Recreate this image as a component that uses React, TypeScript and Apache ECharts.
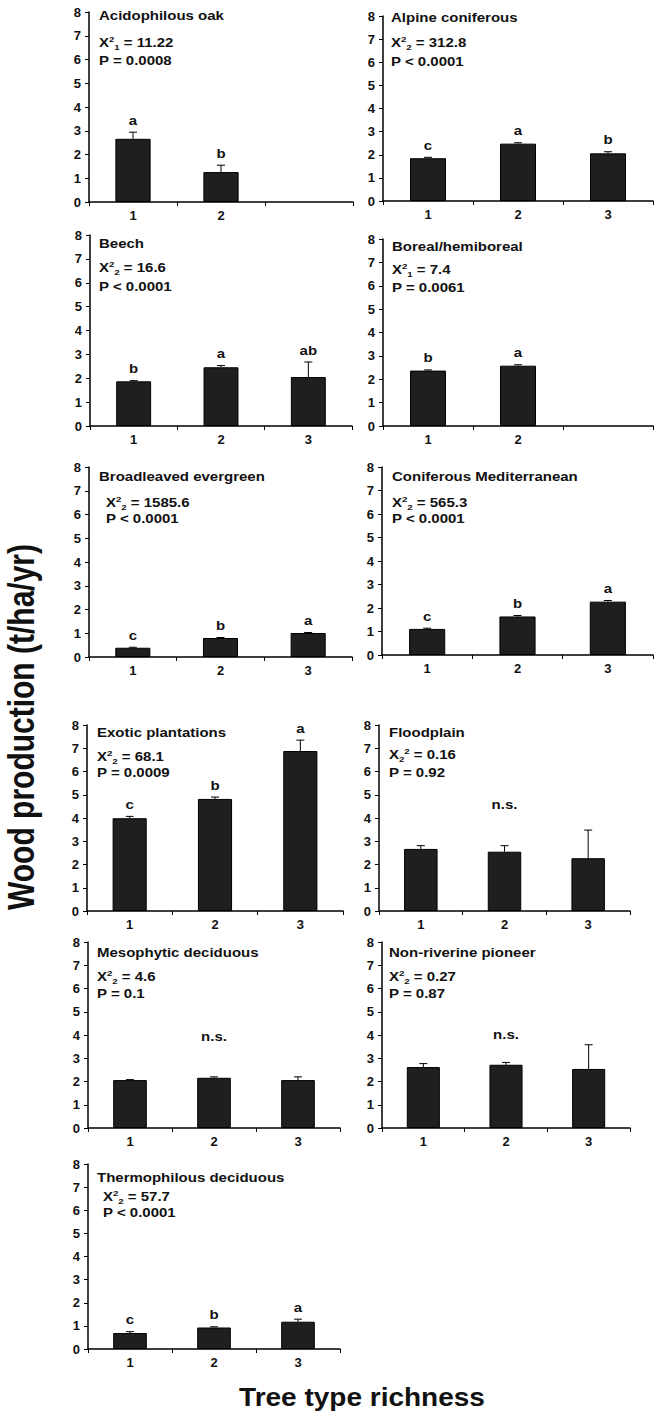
import React, { useEffect, useRef } from 'react';
import * as echarts from 'echarts';

// ---------- data ----------
const panelNames = [
  'Acidophilous oak', 'Alpine coniferous', 'Beech', 'Boreal/hemiboreal',
  'Broadleaved evergreen', 'Coniferous Mediterranean', 'Exotic plantations', 'Floodplain',
  'Mesophytic deciduous', 'Non-riverine pioneer', 'Thermophilous deciduous',
];
const chiDf = [1, 2, 2, 1, 2, 2, 2, 2, 2, 2, 2];
const chiValue = ['11.22', '312.8', '16.6', '7.4', '1585.6', '565.3', '68.1', '0.16', '4.6', '0.27', '57.7'];
const chiSubFirst = [false, false, false, false, false, false, false, true, false, false, false];
const pText = ['P = 0.0008', 'P < 0.0001', 'P < 0.0001', 'P = 0.0061', 'P < 0.0001', 'P < 0.0001',
  'P = 0.0009', 'P = 0.92', 'P = 0.1', 'P = 0.87', 'P < 0.0001'];
const means = [
  [2.66, 1.26],
  [1.85, 2.48, 2.06],
  [1.87, 2.46, 2.05],
  [2.37, 2.58],
  [0.39, 0.80, 1.01],
  [1.11, 1.64, 2.27],
  [3.99, 4.82, 6.88],
  [2.67, 2.55, 2.27],
  [2.06, 2.16, 2.06],
  [2.62, 2.72, 2.54],
  [0.69, 0.93, 1.18],
];
const stdErr = [
  [0.28, 0.29],
  [0.04, 0.04, 0.07],
  [0.03, 0.07, 0.63],
  [0.03, 0.04],
  [0.02, 0.02, 0.02],
  [0.03, 0.04, 0.05],
  [0.08, 0.08, 0.47],
  [0.14, 0.26, 1.21],
  [0.02, 0.04, 0.14],
  [0.15, 0.10, 1.04],
  [0.06, 0.03, 0.11],
];
const letters = [
  ['a', 'b'], ['c', 'a', 'b'], ['b', 'a', 'ab'], ['b', 'a'], ['c', 'b', 'a'], ['c', 'b', 'a'],
  ['c', 'b', 'a'], [], [], [], ['c', 'b', 'a'],
];
const nsValue = [null, null, null, null, null, null, null, 4.55, 3.9, 4.0, null];
const categories3 = ['1', '2', '3'];
const categories2 = ['1', '2', ''];
const yTicks = [0, 8, 1]; // min, max, interval
const yTitle = 'Wood production (t/ha/yr)';
const xTitle = 'Tree type richness';

// ---------- layout ----------
const gridBox = [
  [89, 12, 353, 202], [383, 16, 653, 201],
  [90, 235, 352, 426], [383, 239, 653, 426],
  [89, 467, 352, 657], [382, 467, 653, 655],
  [87, 725, 343, 911], [379, 725, 630, 911],
  [88, 942, 340, 1128], [382, 942, 630, 1128],
  [88, 1164, 340, 1349],
];
const titlePos = [[99, 16], [391, 18], [99, 244], [392, 247], [99, 477], [392, 477],
  [97, 733], [389, 733], [97, 953], [389, 953], [97, 1178]];
const statPos = [[99, 43, 61], [391, 43, 62], [99, 268, 287], [392, 270, 288], [106, 503, 519],
  [392, 503, 519], [97, 757, 773], [389, 755, 773], [97, 977, 994], [389, 977, 994], [103, 1197, 1213]];

const FONT = '"Liberation Sans", Arial, Helvetica, sans-serif';
const STRETCH = 1.2;
const INK = '#111111';

export default function App() {
  const ref = useRef<HTMLDivElement>(null);
  useEffect(() => {
    if (!ref.current) return;
    const chart = echarts.init(ref.current, undefined, { renderer: 'svg' });
    const grid: any[] = [];
    const xAxis: any[] = [];
    const yAxis: any[] = [];
    const series: any[] = [];
    const graphic: any[] = [];

    panelNames.forEach((name, i) => {
      const [l, t, r, b] = gridBox[i];
      grid.push({ left: l, top: t, width: r - l, height: b - t, outerBoundsMode: 'none', containLabel: false });
      xAxis.push({
        type: 'category', gridIndex: i,
        data: means[i].length === 2 ? categories2 : categories3,
        axisLine: { lineStyle: { color: '#000', width: 1.5 } },
        axisTick: { show: true, length: 4, lineStyle: { color: '#000', width: 1 } },
        axisLabel: { color: INK, fontWeight: 'bold', fontSize: 13, fontFamily: FONT, margin: 7 },
        splitLine: { show: false },
      });
      yAxis.push({
        type: 'value', gridIndex: i, min: yTicks[0], max: yTicks[1], interval: yTicks[2],
        axisLine: { show: true, lineStyle: { color: '#000', width: 1.5 } },
        axisTick: { show: true, length: 4, lineStyle: { color: '#000', width: 1 } },
        axisLabel: { color: INK, fontWeight: 'bold', fontSize: 13, fontFamily: FONT, margin: 8 },
        splitLine: { show: false },
      });
      series.push({
        type: 'bar', xAxisIndex: i, yAxisIndex: i, data: means[i], barWidth: '40%',
        itemStyle: { color: '#1f1f1f', borderColor: '#000', borderWidth: 1 },
        silent: true,
      });
      const errData = means[i].map((m, k) => [k, m, stdErr[i][k]]);
      const lets = letters[i];
      series.push({
        type: 'custom', xAxisIndex: i, yAxisIndex: i, data: errData, z: 5, silent: true,
        renderItem: (params: any, api: any) => {
          const k = api.value(0);
          const m = api.value(1);
          const e = api.value(2);
          const p0 = api.coord([k, m]);
          const p1 = api.coord([k, m + e]);
          const children: any[] = [
            { type: 'line', shape: { x1: p0[0], y1: p0[1], x2: p1[0], y2: p1[1] }, style: { stroke: '#000', lineWidth: 1 } },
            { type: 'line', shape: { x1: p1[0] - 4, y1: p1[1], x2: p1[0] + 4, y2: p1[1] }, style: { stroke: '#000', lineWidth: 1 } },
          ];
          const letter = lets[params.dataIndex];
          if (letter) {
            children.push({
              type: 'text', x: p1[0], y: p1[1] - 5, scaleX: STRETCH,
              style: { text: letter, fill: INK, font: `bold 12.5px ${FONT}`, align: 'center', verticalAlign: 'bottom' },
            });
          }
          return { type: 'group', children };
        },
      });
      if (nsValue[i] != null) {
        series.push({
          type: 'custom', xAxisIndex: i, yAxisIndex: i, data: [[1, nsValue[i]]], z: 5, silent: true,
          renderItem: (_p: any, api: any) => {
            const p = api.coord([api.value(0), api.value(1)]);
            return {
              type: 'text', x: p[0], y: p[1], scaleX: STRETCH,
              style: { text: 'n.s.', fill: INK, font: `bold 12.5px ${FONT}`, align: 'center', verticalAlign: 'middle' },
            };
          },
        });
      }
      // panel title
      graphic.push({
        type: 'text', x: titlePos[i][0], y: titlePos[i][1], scaleX: STRETCH, silent: true,
        style: { text: name, fill: INK, font: `bold 12.5px ${FONT}`, verticalAlign: 'middle' },
      });
      const df = String(chiDf[i]);
      const chiText = chiSubFirst[i]
        ? `{b|X}{sub|${df}}{sup|2}{b| = ${chiValue[i]}}`
        : `{b|X}{sup|2}{sub|${df}}{b| = ${chiValue[i]}}`;
      graphic.push({
        type: 'text', x: statPos[i][0], y: statPos[i][1], scaleX: STRETCH, silent: true,
        style: {
          text: chiText, verticalAlign: 'middle', fill: INK,
          rich: {
            b: { fontSize: 12.5, fontWeight: 'bold', fontFamily: FONT, lineHeight: 16, fill: INK, verticalAlign: 'middle' },
            sup: { fontSize: 8, fontWeight: 'bold', fontFamily: FONT, lineHeight: 9, fill: INK, verticalAlign: 'top' },
            sub: { fontSize: 8, fontWeight: 'bold', fontFamily: FONT, lineHeight: 9, fill: INK, verticalAlign: 'bottom' },
          },
        },
      });
      graphic.push({
        type: 'text', x: statPos[i][0], y: statPos[i][2], scaleX: STRETCH, silent: true,
        style: { text: pText[i], fill: INK, font: `bold 12.5px ${FONT}`, verticalAlign: 'middle' },
      });
    });

    graphic.push({
      type: 'text', x: 22, y: 727, rotation: Math.PI / 2, scaleY: 1.2, silent: true,
      style: { text: yTitle, fill: INK, font: `bold 30px ${FONT}`, align: 'center', verticalAlign: 'middle' },
    });
    graphic.push({
      type: 'text', x: 362, y: 1398, scaleX: 1.12, silent: true,
      style: { text: xTitle, fill: INK, font: `bold 25px ${FONT}`, align: 'center', verticalAlign: 'middle' },
    });

    chart.setOption({
      animation: false,
      backgroundColor: '#ffffff',
      grid, xAxis, yAxis, series, graphic,
    });
    return () => chart.dispose();
  }, []);
  return (
    <div
      ref={ref}
      style={{ position: 'absolute', left: 0, top: 0, width: 660, height: 1421, background: '#fff' }}
    />
  );
}
